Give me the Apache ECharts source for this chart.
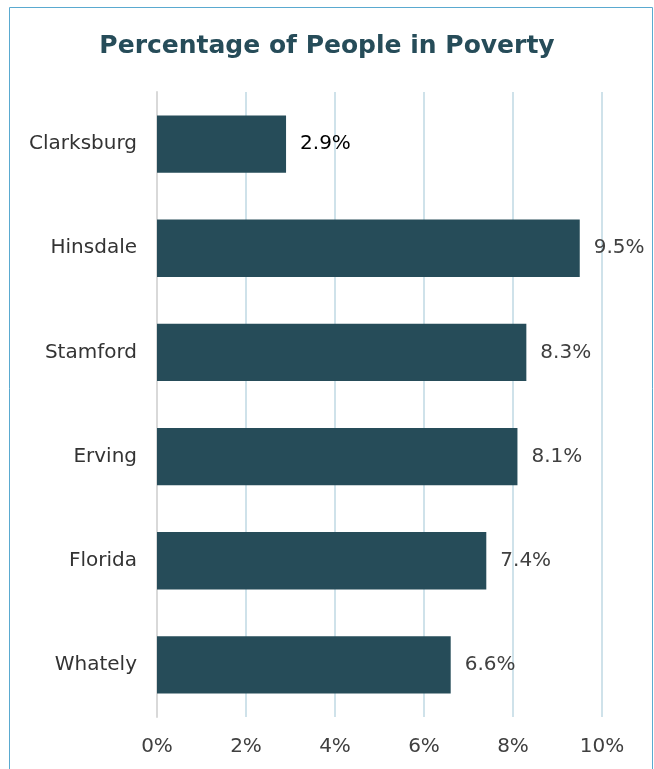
<!DOCTYPE html>
<html>
<head>
<meta charset="utf-8">
<script src="https://cdn.jsdelivr.net/npm/echarts@6/dist/echarts.min.js"></script>
<style>
  html, body { margin: 0; padding: 0; background: #fff; }
  #chart { width: 654px; height: 769px; }
</style>
</head>
<body>
<div id="chart"></div>
<script>
var towns = ["Clarksburg", "Hinsdale", "Stamford", "Erving", "Florida", "Whately"];
var poverty = [2.9, 9.5, 8.3, 8.1, 7.4, 6.6];
var highlightTown = "Clarksburg";

var barData = poverty.map(function (v, i) {
  var item = { value: v };
  if (towns[i] === highlightTown) {
    item.label = { color: "#000" };
  }
  return item;
});

var myChart = echarts.init(document.getElementById("chart"));
myChart.setOption({
  animation: false,
  title: {
    text: "Percentage of People in Poverty",
    left: "center",
    top: 29,
    textStyle: {
      color: "#264c59",
      fontFamily: "DejaVu Sans",
      fontWeight: "bold",
      fontSize: 25
    }
  },
  graphic: [
    {
      type: "rect",
      shape: { x: 9.5, y: 7.5, width: 643, height: 800 },
      style: { fill: "none", stroke: "#5aaad0", lineWidth: 1 },
      silent: true
    }
  ],
  grid: { left: 157, right: 52, top: 92, bottom: 52 },
  xAxis: {
    type: "value",
    min: 0,
    max: 10,
    interval: 2,
    axisLine: { show: false },
    axisTick: { show: false },
    axisLabel: {
      formatter: "{value}%",
      color: "#404040",
      fontFamily: "DejaVu Sans",
      fontSize: 20,
      margin: 20
    },
    splitLine: { lineStyle: { color: "#cfe2ea", width: 2 } }
  },
  yAxis: {
    type: "category",
    inverse: true,
    data: towns,
    axisLine: { show: true, lineStyle: { color: "#d9d9d9", width: 2 } },
    axisTick: { show: false },
    axisLabel: {
      color: "#333",
      fontFamily: "DejaVu Sans",
      fontSize: 20,
      margin: 20
    }
  },
  series: [
    {
      type: "bar",
      data: barData,
      barWidth: "55%",
      itemStyle: { color: "#264c59" },
      label: {
        show: true,
        position: "right",
        distance: 14,
        formatter: "{c}%",
        color: "#404040",
        fontFamily: "DejaVu Sans",
        fontSize: 20
      }
    }
  ]
});
</script>
</body>
</html>
